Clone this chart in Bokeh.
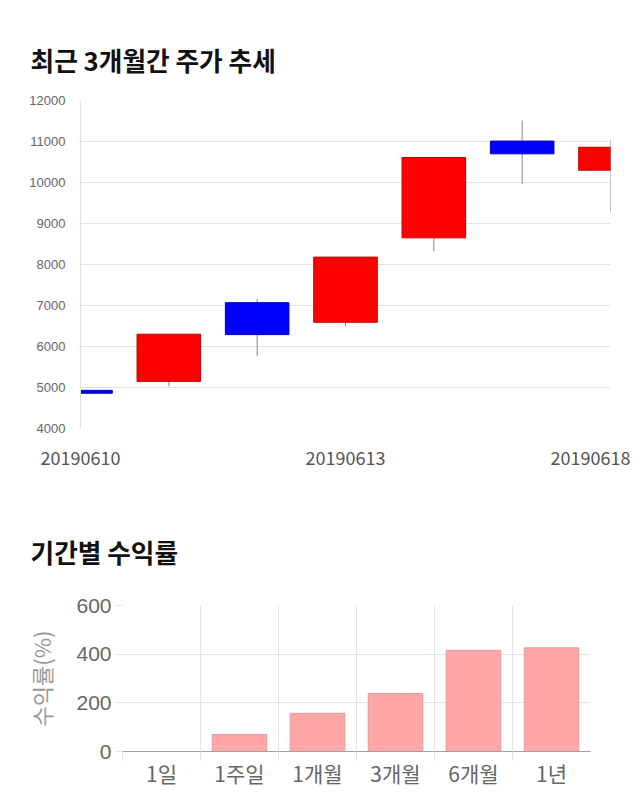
from bokeh.plotting import figure
from bokeh.layouts import column
from bokeh.models import Range1d, FixedTicker, SingleIntervalTicker, ColumnDataSource
from bokeh.embed import file_html
from bokeh.resources import INLINE

# ---- data: candlestick (last 3 months trend) ----
dates = ["20190610", "20190611", "20190612", "20190613", "20190614", "20190617", "20190618"]
opens = [4930, 5150, 7070, 6590, 8650, 11010, 10300]
closes = [4860, 6300, 6290, 8180, 10610, 10700, 10860]
highs = [5560, 6300, 7160, 8180, 10610, 11510, 11040]
lows = [4510, 5030, 5760, 6490, 8325, 9970, 9280]
date_label_idx = [0, 3, 6]

# ---- data: returns by period ----
periods = ["1일", "1주일", "1개월", "3개월", "6개월", "1년"]
returns = [0, 70, 157, 238, 416, 426]
ret_ticks = [0, 200, 400, 600]

W = 640
KFONT = "Noto Sans CJK KR"

# ================= top chart =================
n = len(dates)
xs = list(range(n))
up = [c >= o for o, c in zip(opens, closes)]
src = ColumnDataSource(dict(
    x=xs,
    top=[max(o, c) for o, c in zip(opens, closes)],
    bottom=[min(o, c) for o, c in zip(opens, closes)],
    high=highs, low=lows,
    fill=["#ff0000" if u else "#0000ff" for u in up],
    line=["#c00000" if u else "#0000c0" for u in up],
))

fl, fr, ft, fb = 80, 30, 100, 52
p1 = figure(width=W, height=480, x_range=Range1d(0, n - 1), y_range=Range1d(4000, 12000),
            output_backend="svg", toolbar_location=None,
            min_border_left=fl, min_border_right=fr, min_border_top=ft, min_border_bottom=fb)
p1.frame_align = False
p1.segment(x0="x", y0="low", x1="x", y1="high", source=src, line_color="#888888", line_width=1)
p1.vbar(x="x", width=0.72, top="top", bottom="bottom", source=src,
        fill_color="fill", line_color="line", line_width=1)

p1.outline_line_color = None
p1.xgrid.visible = False
p1.ygrid.grid_line_color = "#e2e2e2"

p1.yaxis.ticker = SingleIntervalTicker(interval=1000)
p1.yaxis.minor_tick_line_color = None
p1.yaxis.major_tick_line_color = None
p1.yaxis.axis_line_color = "#e2e2e2"
p1.yaxis.major_label_text_font = "Liberation Sans"
p1.yaxis.major_label_text_font_size = "13px"
p1.yaxis.major_label_text_color = "#666666"
p1.yaxis.major_label_standoff = 9

# keep last date label inside the canvas
frame_w = W - fl - fr
px_per_unit = frame_w / (n - 1)
label_half_w = 40
last_center_px = W - 10 - label_half_w
tick_pos = []
for i in date_label_idx:
    px = fl + i * px_per_unit
    px = min(px, last_center_px)
    tick_pos.append(round((px - fl) / px_per_unit, 3))
p1.xaxis.ticker = FixedTicker(ticks=tick_pos, minor_ticks=[])
p1.xaxis.major_label_overrides = {t: dates[i] for t, i in zip(tick_pos, date_label_idx)}
p1.xaxis.axis_line_color = None
p1.xaxis.major_tick_line_color = None
p1.xaxis.minor_tick_line_color = None
p1.xaxis.major_label_text_font = KFONT
p1.xaxis.major_label_text_font_size = "18px"
p1.xaxis.major_label_text_color = "#555555"
p1.xaxis.major_label_standoff = 16

p1.title.text = "최근 3개월간 주가 추세"
p1.title.text_font = KFONT
p1.title.text_font_size = "25.7px"
p1.title.text_font_style = "bold"
p1.title.text_color = "#111111"
p1.title.align = "left"
p1.title.offset = 30 - fl
p1.title.standoff = 46

# ================= bottom chart =================
bl, br, bt, bb = 122, 50, 125, 59
m = len(periods)
centers = [i + 0.5 for i in range(m)]
bounds = [float(i) for i in range(m)]
p2 = figure(width=W, height=330, x_range=Range1d(0, m), y_range=Range1d(0, 600),
            output_backend="svg", toolbar_location=None,
            min_border_left=bl, min_border_right=br, min_border_top=bt, min_border_bottom=bb)
p2.frame_align = False
p2.vbar(x=centers, top=returns, width=0.7, fill_color="#ffa6a6", line_color="#e29c9c", line_width=1)

p2.outline_line_color = None
p2.ygrid.grid_line_color = "#e4e4e4"
p2.xgrid.ticker = FixedTicker(ticks=bounds)
p2.xgrid.grid_line_color = "#e4e4e4"

p2.xaxis.ticker = FixedTicker(ticks=centers, minor_ticks=bounds)
p2.xaxis.major_label_overrides = {c: lab for c, lab in zip(centers, periods)}
p2.xaxis.axis_line_color = "#a0a0a0"
p2.xaxis.major_tick_line_color = None
p2.xaxis.major_tick_out = 0
p2.xaxis.major_tick_in = 0
p2.xaxis.minor_tick_line_color = "#e4e4e4"
p2.xaxis.minor_tick_out = 9
p2.xaxis.minor_tick_in = 0
p2.xaxis.major_label_text_font = KFONT
p2.xaxis.major_label_text_font_size = "21px"
p2.xaxis.major_label_text_color = "#666666"
p2.xaxis.major_label_standoff = -3

p2.yaxis.ticker = FixedTicker(ticks=ret_ticks, minor_ticks=[])
p2.yaxis.axis_line_color = None
p2.yaxis.major_tick_line_color = "#e4e4e4"
p2.yaxis.major_tick_out = 7
p2.yaxis.major_tick_in = 0
p2.yaxis.major_label_text_font = "Liberation Sans"
p2.yaxis.major_label_text_font_size = "21px"
p2.yaxis.major_label_text_color = "#666666"
p2.yaxis.major_label_standoff = 4
p2.yaxis.axis_label = "수익률(%)"
p2.yaxis.axis_label_text_font = KFONT
p2.yaxis.axis_label_text_font_size = "22px"
p2.yaxis.axis_label_text_font_style = "normal"
p2.yaxis.axis_label_text_color = "#999999"
p2.yaxis.axis_label_standoff = 16

p2.title.text = "기간별 수익률"
p2.title.text_font = KFONT
p2.title.text_font_size = "25.7px"
p2.title.text_font_style = "bold"
p2.title.text_color = "#111111"
p2.title.align = "left"
p2.title.offset = 30 - bl
p2.title.standoff = 71

layout = column(p1, p2, spacing=0)
open("out.html", "w").write(file_html(layout, INLINE))
